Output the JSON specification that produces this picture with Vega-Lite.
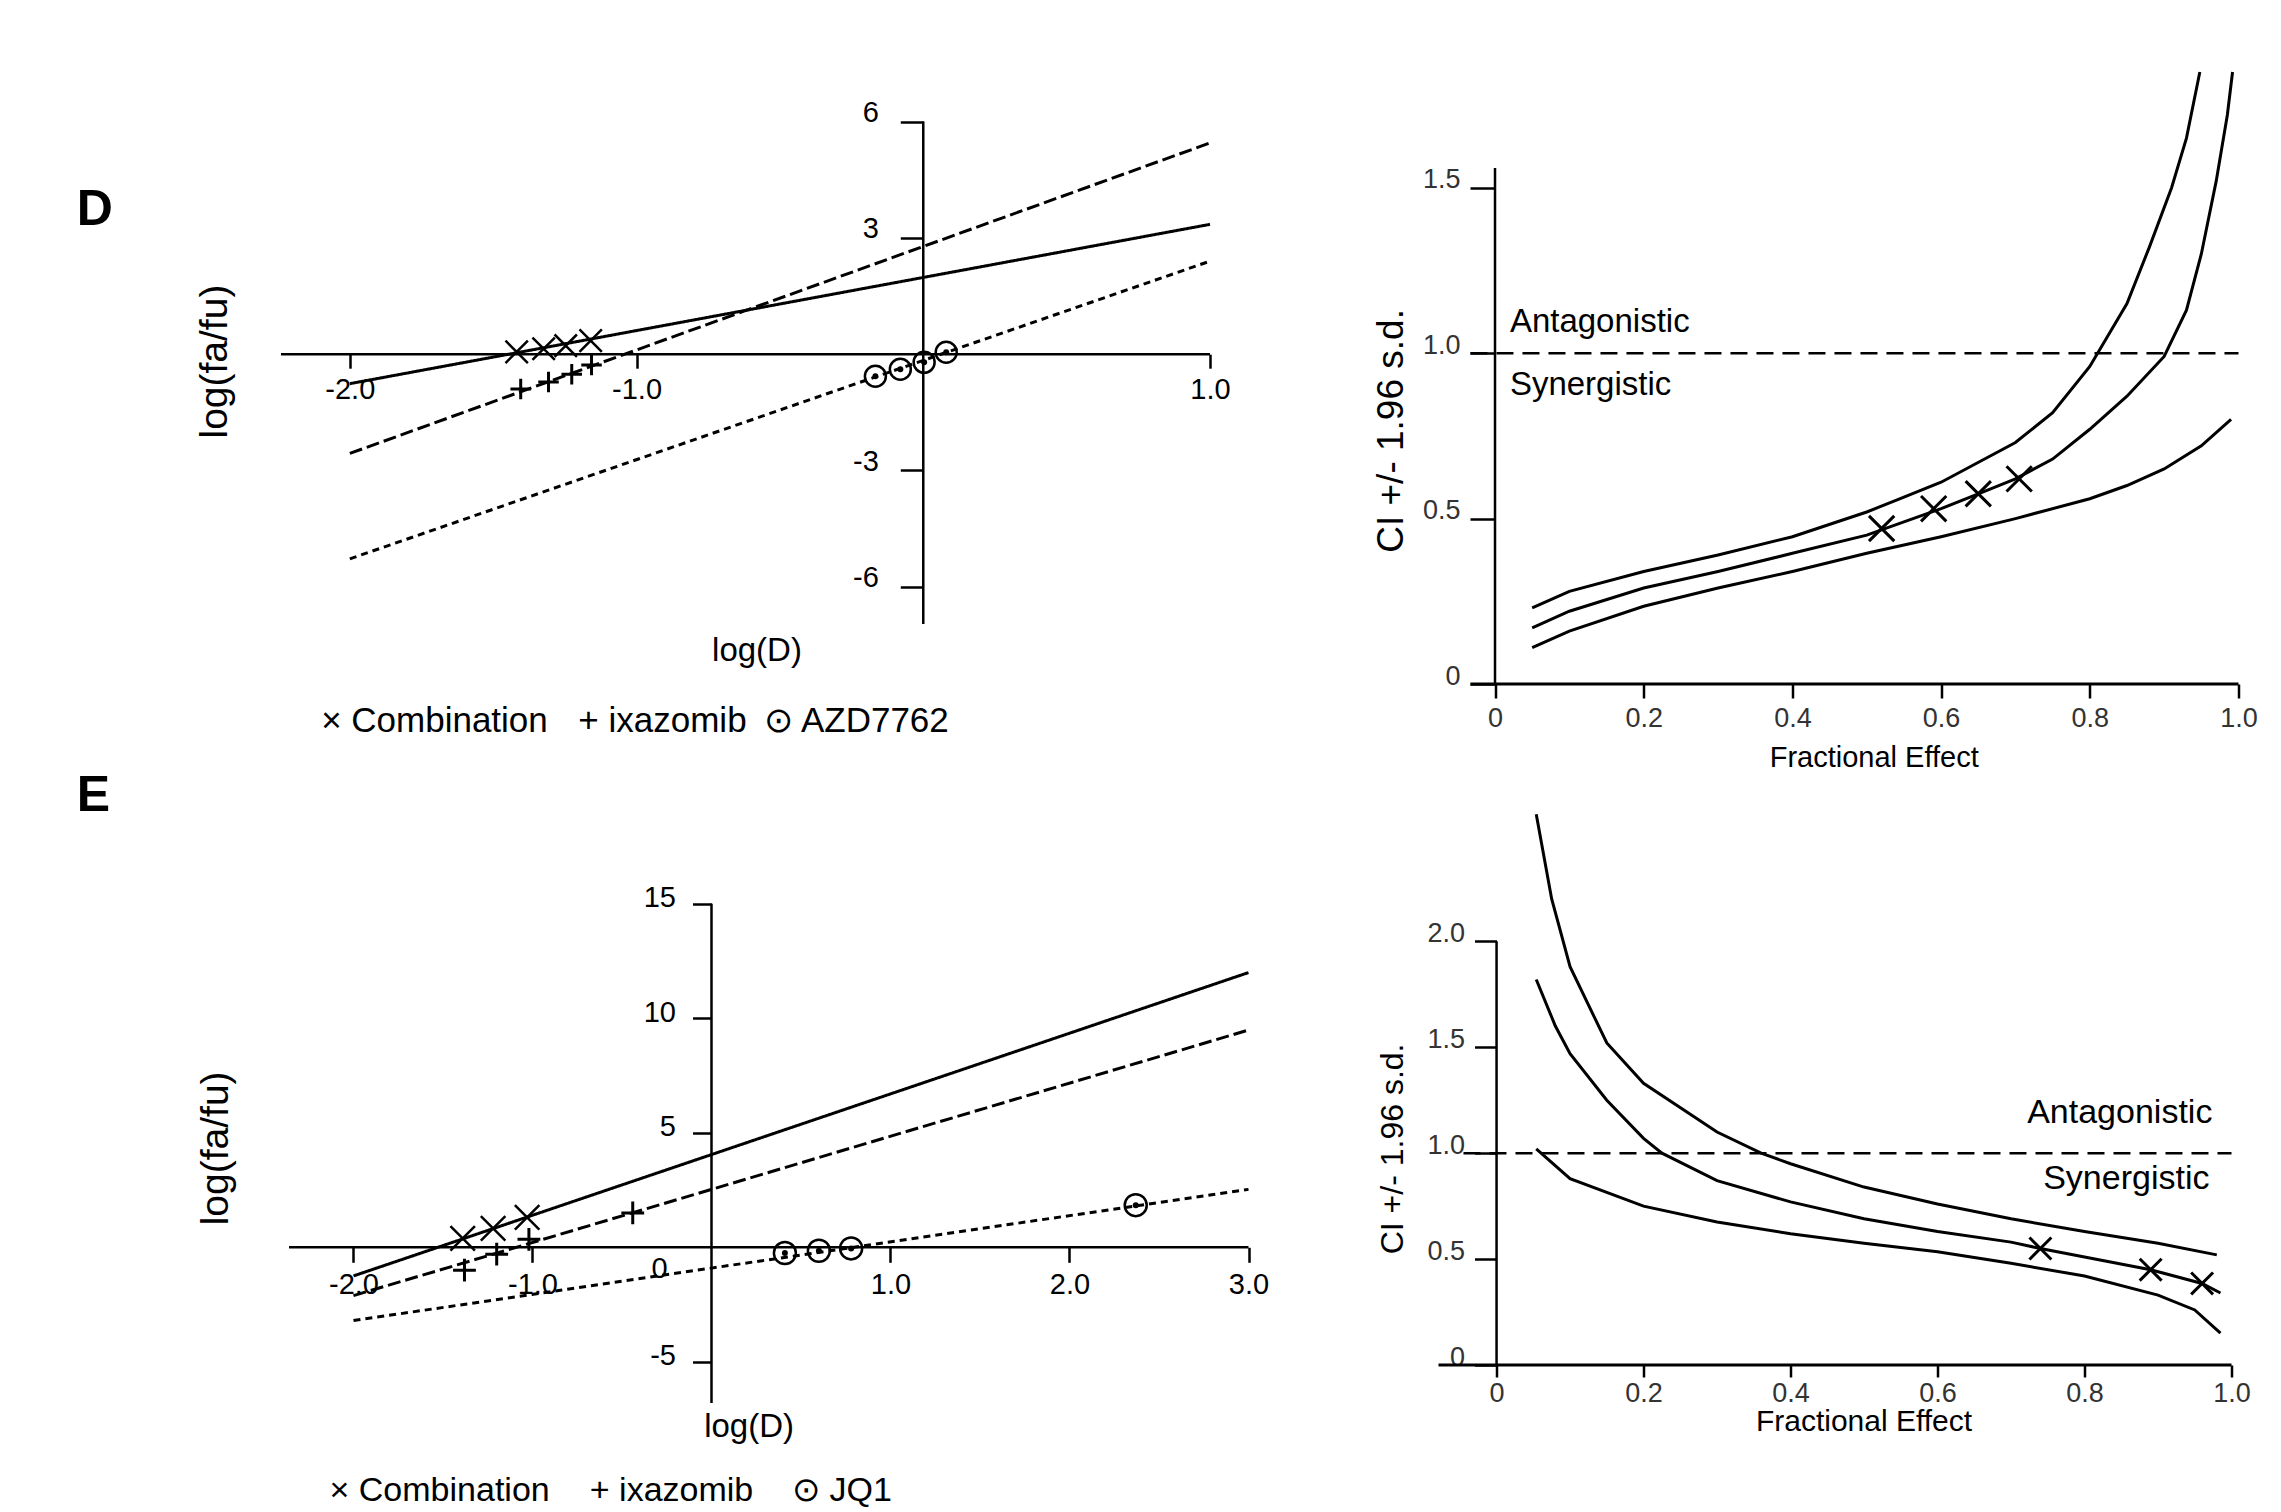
{
  "$schema": "https://vega.github.io/schema/vega-lite/v6.json",
  "background": "white",
  "padding": {"left": 76, "top": 66, "right": 0, "bottom": 0},
  "config": {
    "view": {"stroke": null},
    "font": "Liberation Sans",
    "axis": {"grid": false, "domain": false, "tickColor": "black", "tickWidth": 2.5, "labelColor": "black", "labelFont": "Liberation Sans", "labelOverlap": false, "labelFlush": false, "labelFontSize": 28},
    "text": {"font": "Liberation Sans", "color": "black"},
    "line": {"color": "black"},
    "rule": {"color": "black"}
  },
  "resolve": {"scale": {"strokeDash": "independent"}},
  "datasets": {
    "medD_lines": [
      {"drug": "Combination", "logD": -2.0, "logfafu": -0.76},
      {"drug": "Combination", "logD": 1.0, "logfafu": 3.35},
      {"drug": "ixazomib", "logD": -2.0, "logfafu": -2.56},
      {"drug": "ixazomib", "logD": 1.0, "logfafu": 5.45},
      {"drug": "AZD7762", "logD": -2.0, "logfafu": -5.28},
      {"drug": "AZD7762", "logD": 1.0, "logfafu": 2.40}
    ],
    "medD_pts": [
      {"drug": "Combination", "logD": -1.418, "logfafu": 0.06},
      {"drug": "Combination", "logD": -1.324, "logfafu": 0.14},
      {"drug": "Combination", "logD": -1.247, "logfafu": 0.22},
      {"drug": "Combination", "logD": -1.16, "logfafu": 0.35},
      {"drug": "ixazomib", "logD": -1.404, "logfafu": -0.9},
      {"drug": "ixazomib", "logD": -1.307, "logfafu": -0.72},
      {"drug": "ixazomib", "logD": -1.226, "logfafu": -0.52},
      {"drug": "ixazomib", "logD": -1.157, "logfafu": -0.28},
      {"drug": "AZD7762", "logD": -0.167, "logfafu": -0.57},
      {"drug": "AZD7762", "logD": -0.08, "logfafu": -0.39},
      {"drug": "AZD7762", "logD": 0.003, "logfafu": -0.21},
      {"drug": "AZD7762", "logD": 0.08, "logfafu": 0.05}
    ],
    "ciD": [
      {"curve": "upper", "fa": 0.05, "ci": 0.23}, {"curve": "upper", "fa": 0.1, "ci": 0.28}, {"curve": "upper", "fa": 0.2, "ci": 0.34},
      {"curve": "upper", "fa": 0.3, "ci": 0.39}, {"curve": "upper", "fa": 0.4, "ci": 0.445}, {"curve": "upper", "fa": 0.5, "ci": 0.52},
      {"curve": "upper", "fa": 0.54, "ci": 0.556}, {"curve": "upper", "fa": 0.6, "ci": 0.61}, {"curve": "upper", "fa": 0.7, "ci": 0.73},
      {"curve": "upper", "fa": 0.75, "ci": 0.82}, {"curve": "upper", "fa": 0.8, "ci": 0.96}, {"curve": "upper", "fa": 0.85, "ci": 1.15},
      {"curve": "upper", "fa": 0.88, "ci": 1.32}, {"curve": "upper", "fa": 0.91, "ci": 1.5}, {"curve": "upper", "fa": 0.93, "ci": 1.65},
      {"curve": "upper", "fa": 0.948, "ci": 1.85},
      {"curve": "mid", "fa": 0.05, "ci": 0.17}, {"curve": "mid", "fa": 0.1, "ci": 0.22}, {"curve": "mid", "fa": 0.2, "ci": 0.29},
      {"curve": "mid", "fa": 0.3, "ci": 0.34}, {"curve": "mid", "fa": 0.4, "ci": 0.395}, {"curve": "mid", "fa": 0.5, "ci": 0.45},
      {"curve": "mid", "fa": 0.6, "ci": 0.53}, {"curve": "mid", "fa": 0.65, "ci": 0.575}, {"curve": "mid", "fa": 0.7, "ci": 0.62},
      {"curve": "mid", "fa": 0.75, "ci": 0.68}, {"curve": "mid", "fa": 0.8, "ci": 0.77}, {"curve": "mid", "fa": 0.85, "ci": 0.87},
      {"curve": "mid", "fa": 0.9, "ci": 0.99}, {"curve": "mid", "fa": 0.93, "ci": 1.13}, {"curve": "mid", "fa": 0.95, "ci": 1.3},
      {"curve": "mid", "fa": 0.97, "ci": 1.52}, {"curve": "mid", "fa": 0.985, "ci": 1.72}, {"curve": "mid", "fa": 0.992, "ci": 1.85},
      {"curve": "lower", "fa": 0.05, "ci": 0.11}, {"curve": "lower", "fa": 0.1, "ci": 0.16}, {"curve": "lower", "fa": 0.2, "ci": 0.235},
      {"curve": "lower", "fa": 0.3, "ci": 0.29}, {"curve": "lower", "fa": 0.4, "ci": 0.34}, {"curve": "lower", "fa": 0.5, "ci": 0.395},
      {"curve": "lower", "fa": 0.6, "ci": 0.445}, {"curve": "lower", "fa": 0.7, "ci": 0.5}, {"curve": "lower", "fa": 0.8, "ci": 0.56},
      {"curve": "lower", "fa": 0.85, "ci": 0.6}, {"curve": "lower", "fa": 0.9, "ci": 0.65}, {"curve": "lower", "fa": 0.95, "ci": 0.72},
      {"curve": "lower", "fa": 0.99, "ci": 0.8}
    ],
    "ciD_pts": [
      {"fa": 0.52, "ci": 0.47}, {"fa": 0.59, "ci": 0.53}, {"fa": 0.65, "ci": 0.575}, {"fa": 0.705, "ci": 0.62}
    ],
    "medE_lines": [
      {"drug": "Combination", "logD": -2.0, "logfafu": -1.25},
      {"drug": "Combination", "logD": 3.0, "logfafu": 12.0},
      {"drug": "ixazomib", "logD": -2.0, "logfafu": -2.11},
      {"drug": "ixazomib", "logD": 3.0, "logfafu": 9.49},
      {"drug": "JQ1", "logD": -2.0, "logfafu": -3.2},
      {"drug": "JQ1", "logD": 3.0, "logfafu": 2.53}
    ],
    "medE_pts": [
      {"drug": "Combination", "logD": -1.39, "logfafu": 0.39},
      {"drug": "Combination", "logD": -1.22, "logfafu": 0.83},
      {"drug": "Combination", "logD": -1.03, "logfafu": 1.31},
      {"drug": "ixazomib", "logD": -1.38, "logfafu": -1.0},
      {"drug": "ixazomib", "logD": -1.2, "logfafu": -0.3},
      {"drug": "ixazomib", "logD": -1.02, "logfafu": 0.35},
      {"drug": "ixazomib", "logD": -0.44, "logfafu": 1.5},
      {"drug": "JQ1", "logD": 0.41, "logfafu": -0.25},
      {"drug": "JQ1", "logD": 0.6, "logfafu": -0.15},
      {"drug": "JQ1", "logD": 0.78, "logfafu": -0.05},
      {"drug": "JQ1", "logD": 2.37, "logfafu": 1.84}
    ],
    "ciE": [
      {"curve": "upper", "fa": 0.054, "ci": 2.6}, {"curve": "upper", "fa": 0.075, "ci": 2.2}, {"curve": "upper", "fa": 0.1, "ci": 1.88},
      {"curve": "upper", "fa": 0.15, "ci": 1.52}, {"curve": "upper", "fa": 0.2, "ci": 1.33}, {"curve": "upper", "fa": 0.3, "ci": 1.1},
      {"curve": "upper", "fa": 0.36, "ci": 1.0}, {"curve": "upper", "fa": 0.4, "ci": 0.95}, {"curve": "upper", "fa": 0.5, "ci": 0.84},
      {"curve": "upper", "fa": 0.6, "ci": 0.76}, {"curve": "upper", "fa": 0.7, "ci": 0.69}, {"curve": "upper", "fa": 0.8, "ci": 0.63},
      {"curve": "upper", "fa": 0.9, "ci": 0.575}, {"curve": "upper", "fa": 0.98, "ci": 0.52},
      {"curve": "mid", "fa": 0.054, "ci": 1.82}, {"curve": "mid", "fa": 0.08, "ci": 1.6}, {"curve": "mid", "fa": 0.1, "ci": 1.47},
      {"curve": "mid", "fa": 0.15, "ci": 1.25}, {"curve": "mid", "fa": 0.2, "ci": 1.07}, {"curve": "mid", "fa": 0.225, "ci": 1.0},
      {"curve": "mid", "fa": 0.3, "ci": 0.87}, {"curve": "mid", "fa": 0.4, "ci": 0.77}, {"curve": "mid", "fa": 0.5, "ci": 0.69},
      {"curve": "mid", "fa": 0.6, "ci": 0.63}, {"curve": "mid", "fa": 0.7, "ci": 0.58}, {"curve": "mid", "fa": 0.74, "ci": 0.55},
      {"curve": "mid", "fa": 0.8, "ci": 0.51}, {"curve": "mid", "fa": 0.89, "ci": 0.45}, {"curve": "mid", "fa": 0.96, "ci": 0.385},
      {"curve": "mid", "fa": 0.985, "ci": 0.34},
      {"curve": "lower", "fa": 0.054, "ci": 1.02}, {"curve": "lower", "fa": 0.1, "ci": 0.88}, {"curve": "lower", "fa": 0.2, "ci": 0.75},
      {"curve": "lower", "fa": 0.3, "ci": 0.675}, {"curve": "lower", "fa": 0.4, "ci": 0.62}, {"curve": "lower", "fa": 0.5, "ci": 0.575},
      {"curve": "lower", "fa": 0.6, "ci": 0.535}, {"curve": "lower", "fa": 0.7, "ci": 0.48}, {"curve": "lower", "fa": 0.8, "ci": 0.42},
      {"curve": "lower", "fa": 0.9, "ci": 0.33}, {"curve": "lower", "fa": 0.95, "ci": 0.26}, {"curve": "lower", "fa": 0.985, "ci": 0.15}
    ],
    "ciE_pts": [
      {"fa": 0.74, "ci": 0.55}, {"fa": 0.89, "ci": 0.45}, {"fa": 0.96, "ci": 0.385}
    ]
  },
  "columns": 2,
  "spacing": {"row": 126, "column": 189.5},
  "bounds": "flush",
  "concat": [
    {
      "width": 929, "height": 552,
      "layer": [
        {"data": {"name": "medD_lines"},
         "mark": {"type": "line", "strokeWidth": 3},
         "encoding": {
           "x": {"field": "logD", "type": "quantitative", "scale": {"domain": [-2.24, 1.0], "nice": false, "zero": false},
                 "axis": {"orient": "bottom", "offset": -269.8, "values": [-2, -1, 1], "labelExpr": "(datum.value < 0 ? '-' : '') + format(abs(datum.value), '.1f')", "tickSize": 14, "labelPadding": 7, "labelFontSize": 29, "title": null}},
           "y": {"field": "logfafu", "type": "quantitative", "scale": {"domain": [-6.96, 7.28], "nice": false, "zero": false},
                 "axis": {"orient": "left", "offset": -642.3, "values": [-6, -3, 3, 6], "labelExpr": "(datum.value < 0 ? '-' : '') + format(abs(datum.value), 'd')", "tickSize": 23, "labelPadding": 22, "labelBaseline": "alphabetic", "labelFontSize": 29, "title": null}},
           "strokeDash": {"field": "drug", "type": "nominal", "scale": {"domain": ["Combination", "ixazomib", "AZD7762"], "range": [[1, 0], [13, 5], [7, 5]]}, "legend": null}
         }},
        {"data": {"name": "medD_pts"}, "transform": [{"filter": "datum.drug === 'Combination'"}],
         "mark": {"type": "point", "shape": "M-1,-1L1,1M-1,1L1,-1", "size": 500, "strokeWidth": 2.5, "filled": false, "opacity": 1, "color": "black"},
         "encoding": {"x": {"field": "logD", "type": "quantitative"}, "y": {"field": "logfafu", "type": "quantitative"}}},
        {"data": {"name": "medD_pts"}, "transform": [{"filter": "datum.drug === 'ixazomib'"}],
         "mark": {"type": "point", "shape": "M-1,0L1,0M0,-1L0,1", "size": 420, "strokeWidth": 3, "filled": false, "opacity": 1, "color": "black"},
         "encoding": {"x": {"field": "logD", "type": "quantitative"}, "y": {"field": "logfafu", "type": "quantitative"}}},
        {"data": {"name": "medD_pts"}, "transform": [{"filter": "datum.drug === 'AZD7762'"}],
         "mark": {"type": "point", "shape": "circle", "size": 440, "strokeWidth": 2.5, "filled": false, "opacity": 1, "color": "black"},
         "encoding": {"x": {"field": "logD", "type": "quantitative"}, "y": {"field": "logfafu", "type": "quantitative"}}},
        {"data": {"name": "medD_pts"}, "transform": [{"filter": "datum.drug === 'AZD7762'"}],
         "mark": {"type": "point", "shape": "circle", "size": 36, "filled": true, "opacity": 1, "color": "black"},
         "encoding": {"x": {"field": "logD", "type": "quantitative"}, "y": {"field": "logfafu", "type": "quantitative"}}},
        {"data": {"values": [{}]}, "mark": {"type": "rule", "strokeWidth": 2.5},
         "encoding": {"x": {"datum": 0}, "y": {"datum": -6.96}, "y2": {"datum": 6}}},
        {"data": {"values": [{}]}, "mark": {"type": "rule", "strokeWidth": 2.5},
         "encoding": {"y": {"datum": 0}, "x": {"datum": -2.24}, "x2": {"datum": 1.0}}},
        {"data": {"values": [{}]}, "mark": {"type": "text", "text": "D", "fontSize": 50, "fontWeight": "bold", "align": "left", "baseline": "middle"},
         "encoding": {"x": {"datum": -2.9525}, "y": {"datum": 3.73}}},
        {"data": {"values": [{}]}, "mark": {"type": "text", "text": "log(fa/fu)", "fontSize": 39, "angle": 270},
         "encoding": {"x": {"datum": -2.47}, "y": {"datum": -0.19}}},
        {"data": {"values": [{}]}, "mark": {"type": "text", "text": "log(D)", "fontSize": 33},
         "encoding": {"x": {"datum": -0.58}, "y": {"datum": -7.65}}},
        {"data": {"values": [{}]}, "mark": {"type": "text", "text": "× Combination", "fontSize": 35, "align": "left"},
         "encoding": {"x": {"datum": -2.1}, "y": {"datum": -9.46}}},
        {"data": {"values": [{}]}, "mark": {"type": "text", "text": "+ ixazomib", "fontSize": 35, "align": "left"},
         "encoding": {"x": {"datum": -1.203}, "y": {"datum": -9.46}}},
        {"data": {"values": [{}]}, "mark": {"type": "text", "text": "⊙ AZD7762", "fontSize": 35, "align": "left"},
         "encoding": {"x": {"datum": -0.555}, "y": {"datum": -9.46}}}
      ]
    },
    {
      "width": 800, "height": 612,
      "layer": [
        {"data": {"name": "ciD"},
         "mark": {"type": "line", "strokeWidth": 3},
         "encoding": {
           "x": {"field": "fa", "type": "quantitative", "scale": {"domain": [-0.076, 1.0], "nice": false, "zero": false},
                 "axis": {"values": [0, 0.2, 0.4, 0.6, 0.8, 1], "labelExpr": "datum.value === 0 ? '0' : format(datum.value, '.1f')", "tickSize": 14, "labelPadding": 7, "labelFontSize": 27, "labelColor": "#333333", "title": null}},
           "y": {"field": "ci", "type": "quantitative", "scale": {"domain": [0, 1.85], "nice": false, "zero": false},
                 "axis": {"offset": -56.5, "values": [0, 0.5, 1, 1.5], "labelExpr": "datum.value === 0 ? '0' : format(datum.value, '.1f')", "tickSize": 25, "labelPadding": 10, "labelBaseline": "alphabetic", "labelFontSize": 27, "labelColor": "#333333", "title": null}},
           "detail": {"field": "curve", "type": "nominal"}
         }},
        {"data": {"name": "ciD_pts"},
         "mark": {"type": "point", "shape": "M-1,-1L1,1M-1,1L1,-1", "size": 640, "strokeWidth": 3, "filled": false, "opacity": 1, "color": "black"},
         "encoding": {"x": {"field": "fa", "type": "quantitative"}, "y": {"field": "ci", "type": "quantitative"}}},
        {"data": {"values": [{}]}, "mark": {"type": "rule", "strokeWidth": 2.5},
         "encoding": {"x": {"datum": 0}, "y": {"datum": 0}, "y2": {"datum": 1.56}}},
        {"data": {"values": [{}]}, "mark": {"type": "rule", "strokeWidth": 3},
         "encoding": {"y": {"datum": 0}, "x": {"datum": -0.033}, "x2": {"datum": 1.0}}},
        {"data": {"values": [{}]}, "mark": {"type": "rule", "strokeWidth": 2.5, "strokeDash": [17, 9]},
         "encoding": {"y": {"datum": 1}, "x": {"datum": -0.033}, "x2": {"datum": 1.0}}},
        {"data": {"values": [{}]}, "mark": {"type": "text", "text": "Antagonistic", "fontSize": 33, "align": "left", "baseline": "alphabetic"},
         "encoding": {"x": {"datum": 0.02}, "y": {"datum": 1.063}}},
        {"data": {"values": [{}]}, "mark": {"type": "text", "text": "Synergistic", "fontSize": 33, "align": "left", "baseline": "alphabetic"},
         "encoding": {"x": {"datum": 0.02}, "y": {"datum": 0.873}}},
        {"data": {"values": [{}]}, "mark": {"type": "text", "text": "CI +/- 1.96 s.d.", "fontSize": 37, "angle": 270},
         "encoding": {"x": {"datum": -0.139}, "y": {"datum": 0.765}}},
        {"data": {"values": [{}]}, "mark": {"type": "text", "text": "Fractional Effect", "fontSize": 29},
         "encoding": {"x": {"datum": 0.51}, "y": {"datum": -0.224}}}
      ]
    },
    {
      "width": 967.5, "height": 593,
      "layer": [
        {"data": {"name": "medE_lines"},
         "mark": {"type": "line", "strokeWidth": 3},
         "encoding": {
           "x": {"field": "logD", "type": "quantitative", "scale": {"domain": [-2.405, 3.0], "nice": false, "zero": false},
                 "axis": {"orient": "bottom", "offset": -155.7, "values": [-2, -1, 1, 2, 3], "labelExpr": "(datum.value < 0 ? '-' : '') + format(abs(datum.value), '.1f')", "tickSize": 15, "labelPadding": 8, "labelFontSize": 29, "title": null}},
           "y": {"field": "logfafu", "type": "quantitative", "scale": {"domain": [-6.8, 19.1], "nice": false, "zero": false},
                 "axis": {"orient": "left", "offset": -430.5, "values": [-5, 5, 10, 15], "labelExpr": "(datum.value < 0 ? '-' : '') + format(abs(datum.value), 'd')", "tickSize": 19, "labelPadding": 17, "labelBaseline": "alphabetic", "labelOffset": 3, "labelFontSize": 29, "title": null}},
           "strokeDash": {"field": "drug", "type": "nominal", "scale": {"domain": ["Combination", "ixazomib", "JQ1"], "range": [[1, 0], [13, 5], [7, 5]]}, "legend": null}
         }},
        {"data": {"name": "medE_pts"}, "transform": [{"filter": "datum.drug === 'Combination'"}],
         "mark": {"type": "point", "shape": "M-1,-1L1,1M-1,1L1,-1", "size": 600, "strokeWidth": 2.5, "filled": false, "opacity": 1, "color": "black"},
         "encoding": {"x": {"field": "logD", "type": "quantitative"}, "y": {"field": "logfafu", "type": "quantitative"}}},
        {"data": {"name": "medE_pts"}, "transform": [{"filter": "datum.drug === 'ixazomib'"}],
         "mark": {"type": "point", "shape": "M-1,0L1,0M0,-1L0,1", "size": 520, "strokeWidth": 3, "filled": false, "opacity": 1, "color": "black"},
         "encoding": {"x": {"field": "logD", "type": "quantitative"}, "y": {"field": "logfafu", "type": "quantitative"}}},
        {"data": {"name": "medE_pts"}, "transform": [{"filter": "datum.drug === 'JQ1'"}],
         "mark": {"type": "point", "shape": "circle", "size": 484, "strokeWidth": 2.5, "filled": false, "opacity": 1, "color": "black"},
         "encoding": {"x": {"field": "logD", "type": "quantitative"}, "y": {"field": "logfafu", "type": "quantitative"}}},
        {"data": {"name": "medE_pts"}, "transform": [{"filter": "datum.drug === 'JQ1'"}],
         "mark": {"type": "point", "shape": "circle", "size": 36, "filled": true, "opacity": 1, "color": "black"},
         "encoding": {"x": {"field": "logD", "type": "quantitative"}, "y": {"field": "logfafu", "type": "quantitative"}}},
        {"data": {"values": [{}]}, "mark": {"type": "rule", "strokeWidth": 2.5},
         "encoding": {"x": {"datum": 0}, "y": {"datum": -6.8}, "y2": {"datum": 15}}},
        {"data": {"values": [{}]}, "mark": {"type": "rule", "strokeWidth": 2.5},
         "encoding": {"y": {"datum": 0}, "x": {"datum": -2.36}, "x2": {"datum": 3.0}}},
        {"data": {"values": [{}]}, "mark": {"type": "text", "text": "0", "fontSize": 29},
         "encoding": {"x": {"datum": -0.29}, "y": {"datum": -0.96}}},
        {"data": {"values": [{}]}, "mark": {"type": "text", "text": "E", "fontSize": 50, "fontWeight": "bold", "align": "left", "baseline": "middle"},
         "encoding": {"x": {"datum": -3.546}, "y": {"datum": 19.7}}},
        {"data": {"values": [{}]}, "mark": {"type": "text", "text": "log(fa/fu)", "fontSize": 39, "angle": 270},
         "encoding": {"x": {"datum": -2.77}, "y": {"datum": 4.32}}},
        {"data": {"values": [{}]}, "mark": {"type": "text", "text": "log(D)", "fontSize": 33},
         "encoding": {"x": {"datum": 0.21}, "y": {"datum": -7.86}}},
        {"data": {"values": [{}]}, "mark": {"type": "text", "text": "× Combination", "fontSize": 34, "align": "left"},
         "encoding": {"x": {"datum": -2.134}, "y": {"datum": -10.66}}},
        {"data": {"values": [{}]}, "mark": {"type": "text", "text": "+ ixazomib", "fontSize": 34, "align": "left"},
         "encoding": {"x": {"datum": -0.68}, "y": {"datum": -10.66}}},
        {"data": {"values": [{}]}, "mark": {"type": "text", "text": "⊙ JQ1", "fontSize": 34, "align": "left"},
         "encoding": {"x": {"datum": 0.45}, "y": {"datum": -10.66}}}
      ]
    },
    {
      "width": 793, "height": 555,
      "layer": [
        {"data": {"name": "ciE"},
         "mark": {"type": "line", "strokeWidth": 3},
         "encoding": {
           "x": {"field": "fa", "type": "quantitative", "scale": {"domain": [-0.079, 1.0], "nice": false, "zero": false},
                 "axis": {"values": [0, 0.2, 0.4, 0.6, 0.8, 1], "labelExpr": "datum.value === 0 ? '0' : format(datum.value, '.1f')", "tickSize": 12, "labelPadding": 3, "labelFontSize": 27, "labelColor": "#333333", "title": null}},
           "y": {"field": "ci", "type": "quantitative", "scale": {"domain": [0, 2.62], "nice": false, "zero": false},
                 "axis": {"offset": -58, "values": [0, 0.5, 1, 1.5, 2], "labelExpr": "datum.value === 0 ? '0' : format(datum.value, '.1f')", "tickSize": 22, "labelPadding": 10, "labelBaseline": "alphabetic", "labelFontSize": 27, "labelColor": "#333333", "title": null}},
           "detail": {"field": "curve", "type": "nominal"}
         }},
        {"data": {"name": "ciE_pts"},
         "mark": {"type": "point", "shape": "M-1,-1L1,1M-1,1L1,-1", "size": 480, "strokeWidth": 3, "filled": false, "opacity": 1, "color": "black"},
         "encoding": {"x": {"field": "fa", "type": "quantitative"}, "y": {"field": "ci", "type": "quantitative"}}},
        {"data": {"values": [{}]}, "mark": {"type": "rule", "strokeWidth": 2.5},
         "encoding": {"x": {"datum": 0}, "y": {"datum": 0}, "y2": {"datum": 2.0}}},
        {"data": {"values": [{}]}, "mark": {"type": "rule", "strokeWidth": 3},
         "encoding": {"y": {"datum": 0}, "x": {"datum": -0.079}, "x2": {"datum": 1.0}}},
        {"data": {"values": [{}]}, "mark": {"type": "rule", "strokeWidth": 2.5, "strokeDash": [17, 9]},
         "encoding": {"y": {"datum": 1}, "x": {"datum": -0.045}, "x2": {"datum": 1.0}}},
        {"data": {"values": [{}]}, "mark": {"type": "text", "text": "Antagonistic", "fontSize": 34, "align": "right"},
         "encoding": {"x": {"datum": 0.974}, "y": {"datum": 1.19}}},
        {"data": {"values": [{}]}, "mark": {"type": "text", "text": "Synergistic", "fontSize": 34, "align": "right"},
         "encoding": {"x": {"datum": 0.97}, "y": {"datum": 0.877}}},
        {"data": {"values": [{}]}, "mark": {"type": "text", "text": "CI +/- 1.96 s.d.", "fontSize": 32, "angle": 270},
         "encoding": {"x": {"datum": -0.141}, "y": {"datum": 1.02}}},
        {"data": {"values": [{}]}, "mark": {"type": "text", "text": "Fractional Effect", "fontSize": 30},
         "encoding": {"x": {"datum": 0.5}, "y": {"datum": -0.27}}}
      ]
    }
  ]
}
